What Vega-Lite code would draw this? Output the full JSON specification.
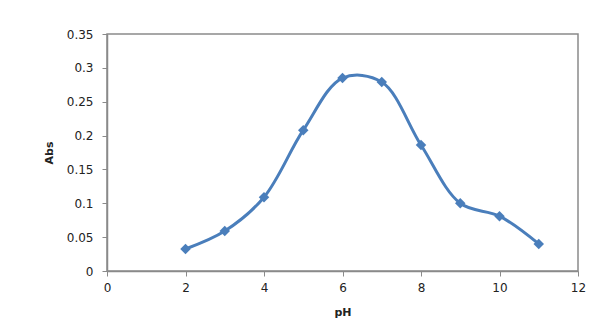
{
  "$schema": "https://vega.github.io/schema/vega-lite/v6.json",
  "width": 471,
  "height": 237,
  "autosize": {"type": "none"},
  "padding": {"left": 107, "top": 34, "right": 24, "bottom": 64},
  "background": "white",
  "config": {
    "view": {"stroke": "#8a8a8a", "strokeWidth": 1.5},
    "font": "DejaVu Sans"
  },
  "data": {
    "values": [
      {"pH": 2, "Abs": 0.0325},
      {"pH": 3, "Abs": 0.059},
      {"pH": 4, "Abs": 0.109},
      {"pH": 5, "Abs": 0.208},
      {"pH": 6, "Abs": 0.285},
      {"pH": 7, "Abs": 0.279},
      {"pH": 8, "Abs": 0.186},
      {"pH": 9, "Abs": 0.100},
      {"pH": 10, "Abs": 0.081},
      {"pH": 11, "Abs": 0.040}
    ]
  },
  "encoding": {
    "x": {
      "field": "pH", "type": "quantitative",
      "scale": {"domain": [0, 12], "nice": false},
      "axis": {
        "values": [0, 2, 4, 6, 8, 10, 12], "grid": false, "labelFlush": false,
        "domainColor": "#8a8a8a", "domainWidth": 1.5,
        "tickColor": "#8a8a8a", "tickSize": 5,
        "labelFontSize": 12, "labelColor": "#222", "labelPadding": 6,
        "title": "pH", "titleFontSize": 11, "titleFontWeight": "bold", "titleColor": "#222", "titlePadding": 13
      }
    },
    "y": {
      "field": "Abs", "type": "quantitative",
      "scale": {"domain": [0, 0.35], "nice": false},
      "axis": {
        "values": [0, 0.05, 0.1, 0.15, 0.2, 0.25, 0.3, 0.35], "grid": false, "labelFlush": false,
        "format": "~g",
        "domainColor": "#8a8a8a", "domainWidth": 1.5,
        "tickColor": "#8a8a8a", "tickSize": 5,
        "labelFontSize": 12, "labelColor": "#222", "labelPadding": 9,
        "title": "Abs", "titleFontSize": 11, "titleFontWeight": "bold", "titleColor": "#222", "titlePadding": 12
      }
    }
  },
  "layer": [
    {"mark": {"type": "line", "interpolate": "catmull-rom", "color": "#4a7ebb", "strokeWidth": 3}},
    {"mark": {"type": "point", "shape": "diamond", "filled": true, "color": "#4a7ebb", "size": 110, "opacity": 1}}
  ]
}
